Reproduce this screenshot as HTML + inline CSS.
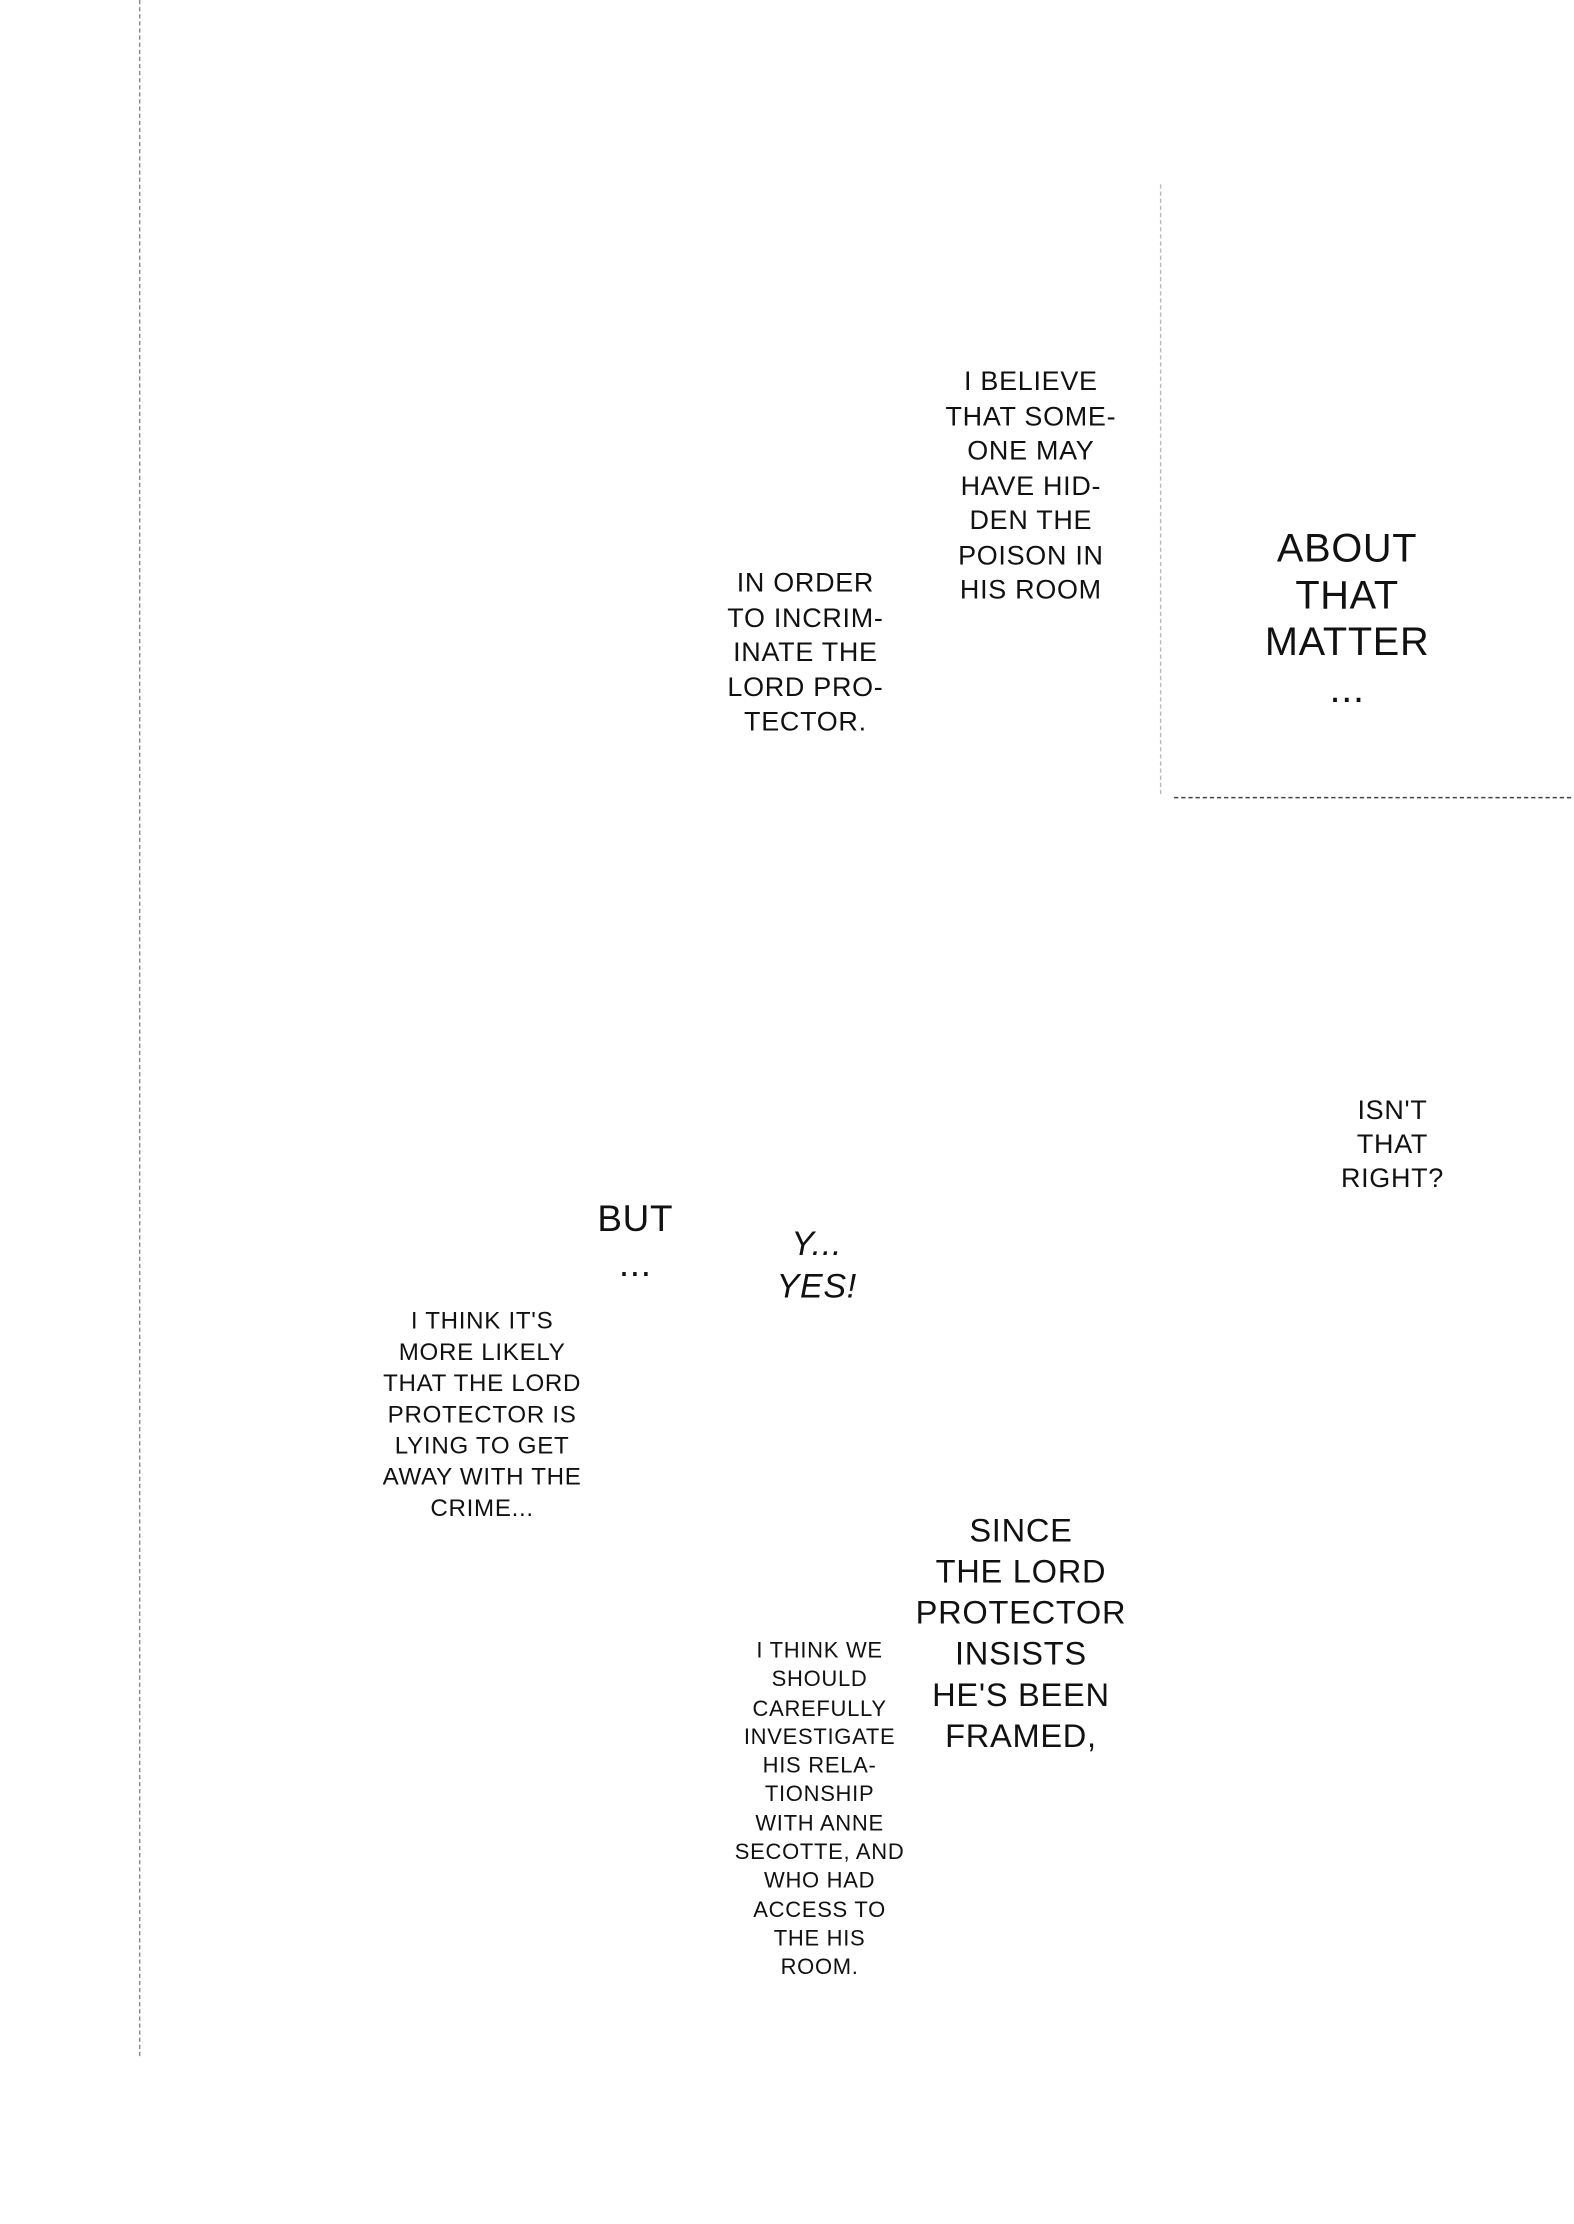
<!DOCTYPE html>
<html><head><meta charset="utf-8"><style>
html,body{margin:0;padding:0;background:#fff;width:1574px;height:2224px;overflow:hidden}
#w{position:absolute;left:0;top:0;width:1110px;height:1568px;transform:scale(1.418);transform-origin:0 0}
.t{position:absolute;text-align:center;font-family:"Liberation Sans Narrow","Liberation Sans",sans-serif;color:#111;white-space:nowrap;transform:translateX(-50%);letter-spacing:0.5px}
.v{position:absolute;border-left:1px dashed #888}
.h{position:absolute;border-top:1px dashed #444}
</style></head><body><div id="w">
<div class="v" style="left:98px;top:0;height:1450px"></div>
<div class="v" style="left:818px;top:130px;height:430px;border-left:1px dashed #bbb"></div>
<div class="h" style="left:828px;top:562px;width:280px"></div>

<div class="t" style="left:727px;top:258px;font-size:19px;line-height:24.5px">I BELIEVE<br>THAT SOME-<br>ONE MAY<br>HAVE HID-<br>DEN THE<br>POISON IN<br>HIS ROOM</div>
<div class="t" style="left:568px;top:400px;font-size:19px;line-height:24.5px">IN ORDER<br>TO INCRIM-<br>INATE THE<br>LORD PRO-<br>TECTOR.</div>
<div class="t" style="left:950px;top:370px;font-size:28px;line-height:33px">ABOUT<br>THAT<br>MATTER<br>...</div>
<div class="t" style="left:982px;top:772px;font-size:19px;line-height:24px">ISN'T<br>THAT<br>RIGHT?</div>
<div class="t" style="left:448px;top:843px;font-size:26px;line-height:32px">BUT<br>...</div>
<div class="t" style="left:576px;top:863px;font-size:24px;line-height:30px;font-style:italic">Y...<br>YES!</div>
<div class="t" style="left:340px;top:921px;font-size:17px;line-height:22px">I THINK IT'S<br>MORE LIKELY<br>THAT THE LORD<br>PROTECTOR IS<br>LYING TO GET<br>AWAY WITH THE<br>CRIME...</div>
<div class="t" style="left:720px;top:1065px;font-size:23px;line-height:29px">SINCE<br>THE LORD<br>PROTECTOR<br>INSISTS<br>HE'S BEEN<br>FRAMED,</div>
<div class="t" style="left:578px;top:1155px;font-size:15.5px;line-height:20.3px">I THINK WE<br>SHOULD<br>CAREFULLY<br>INVESTIGATE<br>HIS RELA-<br>TIONSHIP<br>WITH ANNE<br>SECOTTE, AND<br>WHO HAD<br>ACCESS TO<br>THE HIS<br>ROOM.</div>
</div></body></html>
